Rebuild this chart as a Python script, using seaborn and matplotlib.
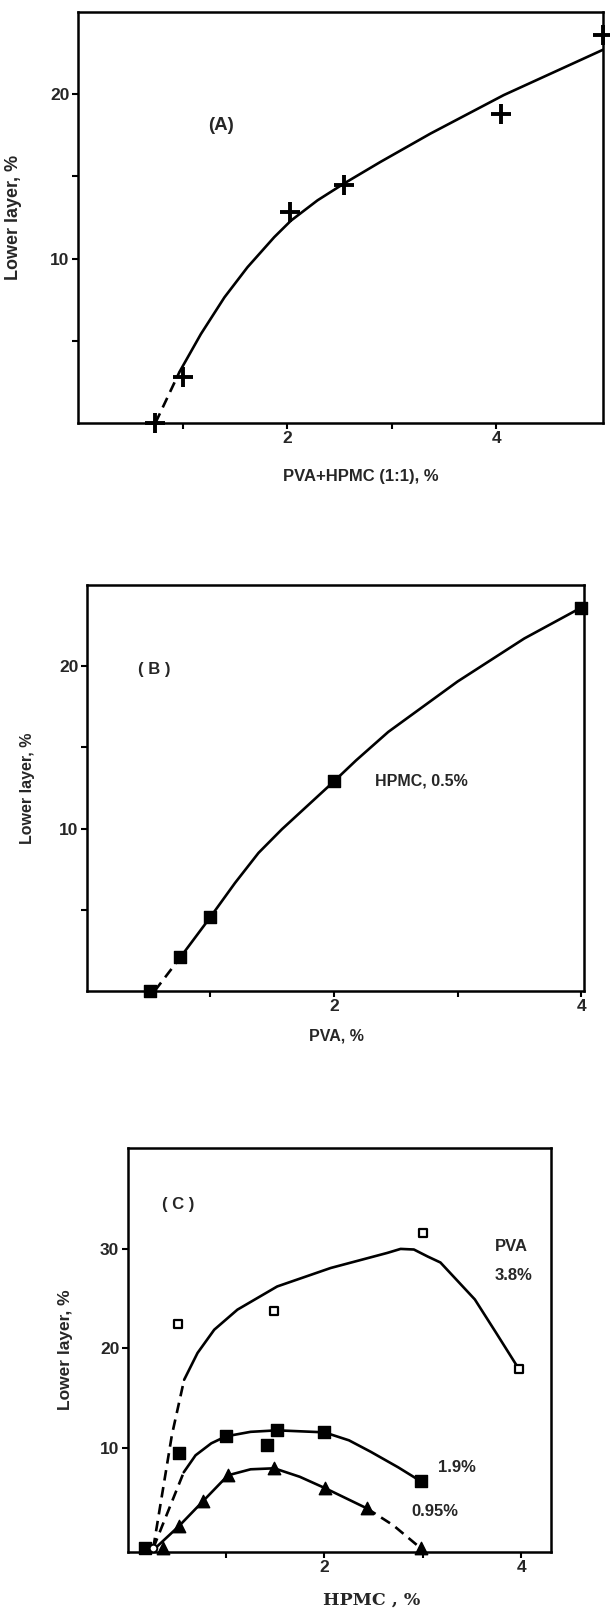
import numpy as np
import pandas as pd
import matplotlib
matplotlib.use('Agg')
import matplotlib.pyplot as plt
import seaborn as sns
from matplotlib.ticker import FixedLocator

sns.set_theme(style='ticks')
plt.rcParams['font.family'] = ['Liberation Sans', 'DejaVu Sans']
plt.rcParams['font.weight'] = 'bold'
plt.rcParams['axes.labelweight'] = 'bold'

# --- (A) PVA + HPMC (1:1) ---
a_x = [0.74, 1.0, 2.03, 2.54, 4.04, 5.02]
a_y = [0.0, 2.8, 12.8, 14.5, 18.8, 23.6]
a_dash_x = [0.74, 0.97]
a_dash_y = [0.0, 3.1]
a_fit_x = [0.97, 1.175, 1.40, 1.62, 1.876, 2.035, 2.29, 2.54, 2.89, 3.37, 4.07, 5.02]
a_fit_y = [3.1, 5.41, 7.64, 9.47, 11.3, 12.3, 13.54, 14.55, 15.87, 17.6, 19.94, 22.7]

# --- (B) PVA, HPMC 0.5% ---
b_x = [0.51, 0.757, 1.0, 2.0, 4.0]
b_y = [0.0, 2.06, 4.54, 12.9, 23.6]
b_dash_x = [0.55, 0.757]
b_dash_y = [0.0, 2.06]
b_fit_x = [0.757, 1.0, 1.2, 1.39, 1.58, 1.80, 2.0, 2.18, 2.44, 3.0, 3.54, 4.0]
b_fit_y = [2.06, 4.54, 6.65, 8.5, 9.96, 11.5, 12.9, 14.2, 15.95, 19.05, 21.7, 23.6]

# --- (C) HPMC at three PVA levels ---
c38_x = [0.51, 1.49, 3.0, 3.98]
c38_y = [22.4, 23.7, 31.6, 17.9]
c38_dash_x = [0.26, 0.45, 0.574]
c38_dash_y = [0.0, 11.35, 16.86]
c38_fit_x = [0.574, 0.71, 0.88, 1.116, 1.52, 2.064, 2.64, 2.775, 2.91, 3.05, 3.18, 3.53, 3.75, 3.98]
c38_fit_y = [16.86, 19.54, 21.87, 23.88, 26.2, 28.05, 29.56, 29.96, 29.9, 29.2, 28.6, 24.9, 21.5, 17.9]

c19_x = [0.18, 0.52, 1.0, 1.42, 1.52, 2.0, 2.98]
c19_y = [0.0, 9.56, 11.2, 10.3, 11.8, 11.6, 6.7]
c19_dash_x = [0.26, 0.57]
c19_dash_y = [0.0, 7.6]
c19_fit_x = [0.57, 0.69, 0.85, 1.0, 1.25, 1.52, 2.0, 2.25, 2.47, 2.75, 2.98]
c19_fit_y = [7.6, 9.3, 10.5, 11.2, 11.65, 11.8, 11.6, 10.8, 9.66, 8.1, 6.7]

c095_x = [0.36, 0.52, 0.77, 1.02, 1.49, 2.01, 2.43, 2.98]
c095_y = [0.0, 2.2, 4.75, 7.3, 8.0, 6.0, 4.0, 0.0]
c095_fit_x = [0.28, 0.52, 0.77, 1.02, 1.25, 1.49, 1.75, 2.01, 2.43]
c095_fit_y = [0.0, 2.2, 4.75, 7.3, 7.9, 8.0, 7.15, 6.0, 4.0]
c095_dash_x = [2.43, 2.7, 2.98]
c095_dash_y = [4.0, 2.3, 0.0]

c0_x = [0.26]
c0_y = [0.0]

DASH = (0, (4, 2.5))


def curve(ax, x, y, dashed=False):
    df = pd.DataFrame({'x': x, 'y': y})
    sns.lineplot(data=df, x='x', y='y', ax=ax, sort=False, estimator=None,
                 color='black', linewidth=1.9,
                 linestyle=DASH if dashed else '-', zorder=2)


def points(ax, x, y, marker, s, face='black', lw=1.0):
    df = pd.DataFrame({'x': x, 'y': y})
    sns.scatterplot(data=df, x='x', y='y', ax=ax, marker=marker, s=s,
                    color=face, edgecolor='black', linewidth=lw,
                    clip_on=False, zorder=3)


def style_axes(ax, xlim, ylim, xmaj, xmin, ymaj, ymin):
    ax.set_xlim(*xlim)
    ax.set_ylim(*ylim)
    ax.xaxis.set_major_locator(FixedLocator(xmaj))
    ax.xaxis.set_minor_locator(FixedLocator(xmin))
    ax.yaxis.set_major_locator(FixedLocator(ymaj))
    ax.yaxis.set_minor_locator(FixedLocator(ymin))
    ax.set_xticklabels([str(v) for v in xmaj])
    ax.set_yticklabels([str(v) for v in ymaj])
    ax.tick_params(which='both', direction='out', length=4, width=1.5,
                   color='black', labelsize=12.5, pad=2)
    for sp in ax.spines.values():
        sp.set_visible(True)
        sp.set_linewidth(1.8)
        sp.set_color('black')


fig = plt.figure(figsize=(6.1, 16.1), dpi=100)

# panel A
axA = fig.add_axes([0.1279, 0.7373, 0.8607, 0.2553])
curve(axA, a_dash_x, a_dash_y, dashed=True)
curve(axA, a_fit_x, a_fit_y)
points(axA, a_x, a_y, '+', 220, lw=2.8)
style_axes(axA, (0, 5.02), (0, 25), [2, 4], [1, 3], [10, 20], [5, 15])
axA.text(1.37, 18.1, '(A)', ha='center', va='center', fontsize=13.5)
axA.set_xlabel('PVA+HPMC (1:1), %', fontsize=12)
axA.set_ylabel('Lower layer, %', fontsize=13)
axA.xaxis.label.set_va('center')
axA.xaxis.set_label_coords(0.539, -0.1307)
axA.yaxis.set_label_coords(-0.107, 0.5)

# panel B
axB = fig.add_axes([0.1421, 0.3845, 0.8146, 0.2522])
curve(axB, b_dash_x, b_dash_y, dashed=True)
curve(axB, b_fit_x, b_fit_y)
points(axB, b_x, b_y, 's', 64)
style_axes(axB, (0, 4.02), (0, 25), [2, 4], [1, 3], [10, 20], [5, 15])
axB.text(0.55, 19.8, '( B )', ha='center', va='center', fontsize=12)
axB.text(2.33, 12.95, 'HPMC, 0.5%', ha='left', va='center', fontsize=11.5)
axB.set_xlabel('PVA, %', fontsize=11.5)
axB.set_ylabel('Lower layer, %', fontsize=11.5)
axB.xaxis.label.set_va('center')
axB.xaxis.set_label_coords(0.503, -0.111)
axB.yaxis.set_label_coords(-0.104, 0.5)

# panel C
axC = fig.add_axes([0.2093, 0.0362, 0.6933, 0.2510])
curve(axC, c38_dash_x, c38_dash_y, dashed=True)
curve(axC, c38_fit_x, c38_fit_y)
curve(axC, c19_dash_x, c19_dash_y, dashed=True)
curve(axC, c19_fit_x, c19_fit_y)
curve(axC, c095_fit_x, c095_fit_y)
curve(axC, c095_dash_x, c095_dash_y, dashed=True)
points(axC, c38_x, c38_y, 's', 36, face='white', lw=1.6)
points(axC, c19_x, c19_y, 's', 72)
points(axC, c095_x, c095_y, '^', 80)
points(axC, c0_x, c0_y, 'o', 30, face='white', lw=1.4)
style_axes(axC, (0, 4.3), (-0.35, 40.1), [2, 4], [1, 3], [10, 20, 30], [])
axC.text(0.35, 34.4, '( C )', ha='left', va='center', fontsize=12)
axC.text(3.73, 30.2, 'PVA', ha='left', va='center', fontsize=12)
axC.text(3.73, 27.3, '3.8%', ha='left', va='center', fontsize=12)
axC.text(3.16, 8.1, '1.9%', ha='left', va='center', fontsize=12)
axC.text(2.88, 3.7, '0.95%', ha='left', va='center', fontsize=12)
axC.set_xlabel('HPMC , %', fontsize=12.5, family=['DejaVu Serif'])
axC.set_ylabel('Lower layer, %', fontsize=12.5)
axC.xaxis.label.set_va('center')
axC.xaxis.set_label_coords(0.578, -0.1195)
axC.yaxis.set_label_coords(-0.129, 0.5)

fig.savefig('out.png', dpi=100)
